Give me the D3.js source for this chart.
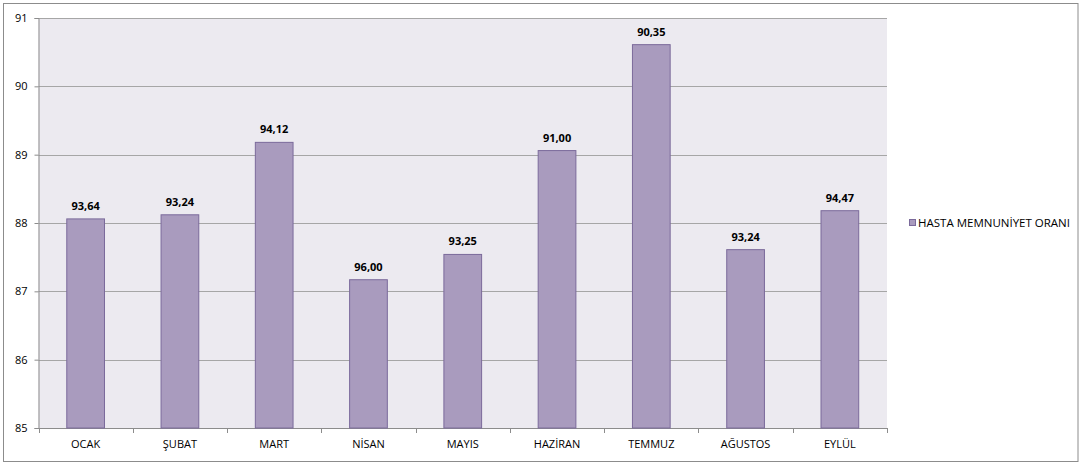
<!DOCTYPE html>
<html><head><meta charset="utf-8">
<script src="https://cdn.jsdelivr.net/npm/d3@7"></script>
<style>body{margin:0;background:#fff}svg{display:block}</style>
</head><body>
<svg id="c" width="1082" height="466"></svg>
<script>
const categories = ["OCAK","ŞUBAT","MART","NİSAN","MAYIS","HAZİRAN","TEMMUZ","AĞUSTOS","EYLÜL"];
const barValues = [88.06, 88.12, 89.18, 87.17, 87.54, 89.06, 90.61, 87.61, 88.18];
const dataLabels = ["93,64","93,24","94,12","96,00","93,25","91,00","90,35","93,24","94,47"];
const yTicks = [85, 86, 87, 88, 89, 90, 91];
const seriesName = "HASTA MEMNUNİYET ORANI";

const font = "'Open Sans', 'Lato', sans-serif";
const svg = d3.select("#c");
const m = {left: 38.5, top: 18, right: 887, bottom: 428};

svg.append("rect").attr("x",3.5).attr("y",3.5).attr("width",1074.5).attr("height",458)
  .attr("fill","#fff").attr("stroke","#8c8c8c").attr("stroke-width",1);

const x = d3.scaleBand().domain(categories).range([m.left, m.right]).paddingInner(0.6).paddingOuter(0.3);
const y = d3.scaleLinear().domain([85, 91]).range([m.bottom, m.top]);

svg.append("rect").attr("x",m.left).attr("y",m.top).attr("width",m.right-m.left).attr("height",m.bottom-m.top)
  .attr("fill","#ECEAF0");

// grid
svg.append("g").selectAll("line").data(yTicks).join("line")
  .attr("x1",m.left).attr("x2",m.right)
  .attr("y1",d=>Math.round(y(d))+0.5).attr("y2",d=>Math.round(y(d))+0.5)
  .attr("stroke","#A6A6A6").attr("stroke-width",1);

// y axis
const ya = svg.append("g").attr("transform",`translate(${m.left},0)`)
  .call(d3.axisLeft(y).tickValues(yTicks).tickSize(4).tickPadding(7).tickFormat(d3.format("d")));
ya.select(".domain").attr("stroke","#8c8c8c");
ya.selectAll(".tick line").attr("stroke","#8c8c8c");
ya.selectAll("text").attr("font-family",font).attr("font-size",11).attr("fill","#000");

// x axis
const xa = svg.append("g").attr("transform",`translate(0,${m.bottom+0.5})`)
  .call(d3.axisBottom(x).tickSize(0).tickPadding(12));
xa.select(".domain").attr("stroke","#8c8c8c").attr("d",`M${m.left},0H${m.right}`);
xa.selectAll("text").attr("font-family",font).attr("font-size",11).attr("fill","#000");
// category separator ticks
const sepPos = d3.range(categories.length+1).map(i => m.left + i*(m.right-m.left)/categories.length);
svg.append("g").selectAll("line").data(sepPos).join("line")
  .attr("x1",d=>Math.round(d)+0.5).attr("x2",d=>Math.round(d)+0.5)
  .attr("y1",m.bottom).attr("y2",m.bottom+5).attr("stroke","#8c8c8c");

// bars
svg.append("g").selectAll("rect").data(categories).join("rect")
  .attr("x",(d)=>x(d)).attr("width",x.bandwidth())
  .attr("y",(d,i)=>y(barValues[i])).attr("height",(d,i)=>y(85)-y(barValues[i]))
  .attr("fill","#A99BBE").attr("stroke","#7B6A9B").attr("stroke-width",1);

// data labels
svg.append("g").selectAll("text").data(categories).join("text")
  .attr("x",d=>x(d)+x.bandwidth()/2).attr("y",(d,i)=>y(barValues[i])-9)
  .attr("text-anchor","middle").attr("font-family",font).attr("font-size",11).attr("font-weight","bold")
  .attr("fill","#000").text((d,i)=>dataLabels[i]);

// legend
const lg = svg.append("g").attr("transform","translate(909,223)");
lg.append("rect").attr("x",0.5).attr("y",-3.5).attr("width",6).attr("height",6)
  .attr("fill","#A99BBE").attr("stroke","#7B6A9B");
lg.append("text").attr("x",9).attr("y",0).attr("dy","0.35em")
  .attr("font-family",font).attr("font-size",11.5).attr("fill","#000").text(seriesName);
</script>
</body></html>
